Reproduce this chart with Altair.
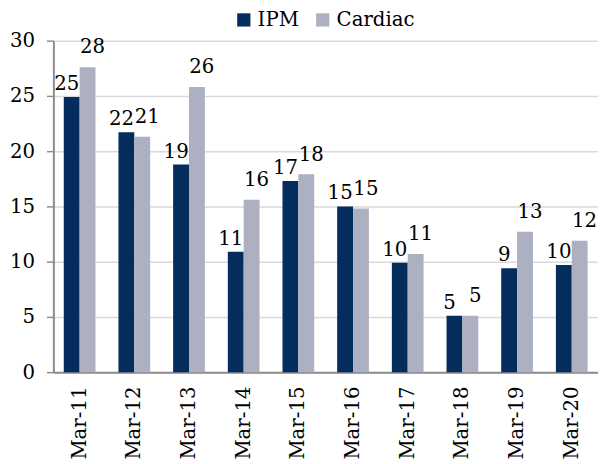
import altair as alt
import pandas as pd

months = ["Mar-11", "Mar-12", "Mar-13", "Mar-14", "Mar-15",
          "Mar-16", "Mar-17", "Mar-18", "Mar-19", "Mar-20"]
ipm = [24.9, 21.7, 18.8, 10.9, 17.3, 15.0, 9.9, 5.1, 9.4, 9.7]
cardiac = [27.6, 21.3, 25.8, 15.6, 17.9, 14.8, 10.7, 5.1, 12.7, 11.9]
series = ["IPM", "Cardiac"]
colors = ["#042c5c", "#adb0c1"]
y_ticks = [0, 5, 10, 15, 20, 25, 30]

rows = []
for m, a, b in zip(months, ipm, cardiac):
    rows.append({"month": m, "series": "IPM", "value": a})
    rows.append({"month": m, "series": "Cardiac", "value": b})
df = pd.DataFrame(rows)

FONT = "DejaVu Serif"
FS = 20
GRAY = "#8c8c8c"

x = alt.X("month:N", sort=months, title=None,
          scale=alt.Scale(paddingInner=0.42, paddingOuter=0.19),
          axis=alt.Axis(labelAngle=-90, ticks=False, labelPadding=14,
                        domainColor=GRAY, domainWidth=2, grid=False))
y = alt.Y("value:Q", title=None, scale=alt.Scale(domain=[0, 30], nice=False),
          axis=alt.Axis(values=y_ticks, tickSize=7, tickColor=GRAY, tickWidth=1.5,
                        domainColor=GRAY, domainWidth=2, gridColor="#d9d9d9",
                        gridWidth=1.5, labelPadding=12))
xoff = alt.XOffset("series:N", sort=series,
                   scale=alt.Scale(paddingInner=0, paddingOuter=0))

base = alt.Chart(df)

bars = base.mark_bar().encode(
    x=x, y=y, xOffset=xoff,
    color=alt.Color("series:N", sort=series,
                    scale=alt.Scale(domain=series, range=colors),
                    legend=alt.Legend(orient="none", legendX=183, legendY=-31,
                                      direction="horizontal", title=None,
                                      symbolType="square", symbolSize=180,
                                      symbolStrokeWidth=0, labelFontSize=FS,
                                      labelFont=FONT, labelColor="black",
                                      columnPadding=14, labelOffset=4)),
)

lab_ipm = base.transform_filter(alt.datum.series == "IPM").mark_text(
    dy=-7, dx=-5, baseline="alphabetic", fontSize=FS, font=FONT, color="black"
).encode(x=x, y=y, xOffset=xoff, text=alt.Text("value:Q", format=".0f"))

lab_card = base.transform_filter(alt.datum.series == "Cardiac").mark_text(
    dy=-14, dx=5, baseline="alphabetic", fontSize=FS, font=FONT, color="black"
).encode(x=x, y=y, xOffset=xoff, text=alt.Text("value:Q", format=".0f"))

chart = alt.layer(bars, lab_ipm, lab_card).properties(
    width=552, height=336,
    autosize=alt.AutoSizeParams(type="none"),
    padding={"left": 46, "top": 30, "right": 0, "bottom": 90},
).configure_view(stroke=None).configure_axis(
    labelFont=FONT, labelFontSize=FS, labelColor="black"
)

chart.save("out.html", embed_options={"renderer": "svg", "actions": False})
